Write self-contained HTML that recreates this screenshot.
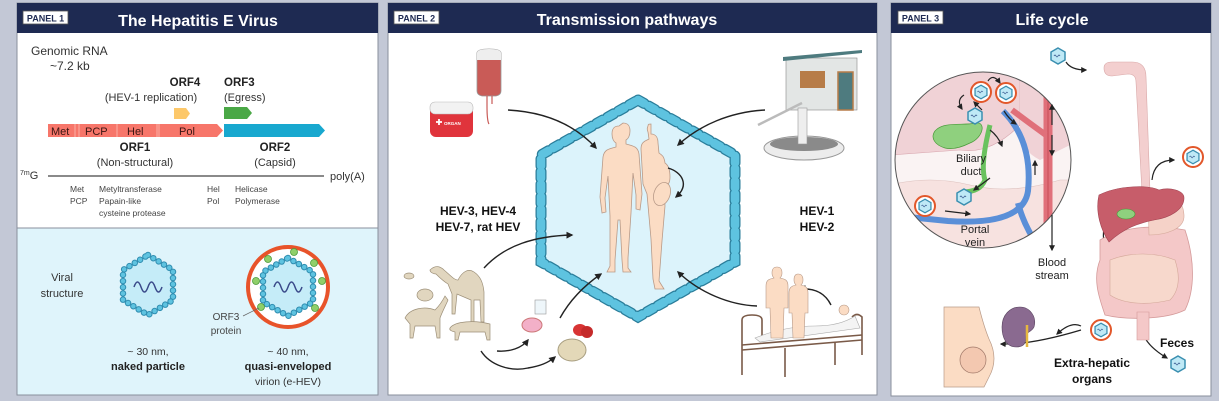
<!DOCTYPE html>
<html><head><meta charset="utf-8"><style>
html,body{margin:0;padding:0;background:#c3c8d6;}
svg{display:block;font-family:"Liberation Sans",Arial,sans-serif;}
</style></head><body>
<svg width="1219" height="401" viewBox="0 0 1219 401" xmlns="http://www.w3.org/2000/svg">
<defs>
<marker id="ah" viewBox="0 0 10 10" refX="8" refY="5" markerWidth="5" markerHeight="5" orient="auto"><path d="M0,0 L10,5 L0,10 z" fill="#222"/></marker>
<g id="vir">
 <polygon points="0,-8 7,-4 7,4 0,8 -7,4 -7,-4" fill="#bfe9f6" stroke="#3a8fb0" stroke-width="1.5"/>
 <path d="M-4,0 q1,-2 2,0 t2,0 t2,0" fill="none" stroke="#3a5a90" stroke-width="0.8"/>
</g>
<g id="evir">
 <circle r="10" fill="#fff" stroke="#e2572a" stroke-width="2"/>
 <use href="#vir" transform="scale(0.85)"/>
</g>
</defs>
<rect width="1219" height="401" fill="#c3c8d6"/>

<!-- PANEL 1 -->
<rect x="17" y="3" width="361" height="392" fill="#fff" stroke="#8a8f9c"/>
<rect x="17" y="3" width="361" height="30" fill="#1e2a52"/>
<rect x="23" y="11" width="45" height="13" fill="#fff" stroke="#555" stroke-width="0.8"/>
<text x="45.5" y="21.5" font-size="9" font-weight="bold" text-anchor="middle" fill="#1e2a52">PANEL 1</text>
<text x="198" y="26" font-size="16" font-weight="bold" text-anchor="middle" fill="#fff">The Hepatitis E Virus</text>
<text x="31" y="55" font-size="12" fill="#333">Genomic RNA</text>
<text x="50" y="70" font-size="12" fill="#333">~7.2 kb</text>
<text x="185" y="86" font-size="11.5" font-weight="bold" text-anchor="middle" fill="#222">ORF4</text>
<text x="151" y="101" font-size="11" text-anchor="middle" fill="#333">(HEV-1 replication)</text>
<text x="224" y="86" font-size="11.5" font-weight="bold" fill="#222">ORF3</text>
<text x="224" y="101" font-size="11" fill="#333">(Egress)</text>
<polygon points="174,108 186,108 190,113.5 186,119 174,119" fill="#fdc86a"/>
<polygon points="224,107 247,107 252,113 247,119 224,119" fill="#4aa846"/>
<polygon points="48,124 217,124 223,130.5 217,137 48,137" fill="#f7766a"/>
<g stroke="#fbb0a6" stroke-width="1"><line x1="75" y1="124" x2="75" y2="137"/><line x1="79" y1="124" x2="79" y2="137"/><line x1="117" y1="124" x2="117" y2="137"/><line x1="157" y1="124" x2="157" y2="137"/><line x1="159" y1="124" x2="159" y2="137"/></g>
<polygon points="224,124 319,124 325,130.5 319,137 224,137" fill="#18a8cf"/>
<g font-size="11" fill="#3a1512"><text x="51" y="135">Met</text><text x="85" y="135">PCP</text><text x="127" y="135">Hel</text><text x="179" y="135">Pol</text></g>
<text x="135" y="151" font-size="11.5" font-weight="bold" text-anchor="middle" fill="#222">ORF1</text>
<text x="135" y="166" font-size="11" text-anchor="middle" fill="#333">(Non-structural)</text>
<text x="275" y="151" font-size="11.5" font-weight="bold" text-anchor="middle" fill="#222">ORF2</text>
<text x="275" y="166" font-size="11" text-anchor="middle" fill="#333">(Capsid)</text>
<line x1="48" y1="176" x2="324" y2="176" stroke="#444" stroke-width="1.3"/>
<text x="20" y="179" font-size="11" fill="#333"><tspan font-size="7" dy="-4">7m</tspan><tspan dy="4">G</tspan></text>
<text x="330" y="180" font-size="11" fill="#333">poly(A)</text>
<g font-size="8.5" fill="#444">
<text x="70" y="192">Met</text><text x="99" y="192">Metyltransferase</text>
<text x="70" y="204">PCP</text><text x="99" y="204">Papain-like</text>
<text x="99" y="216">cysteine protease</text>
<text x="207" y="192">Hel</text><text x="235" y="192">Helicase</text>
<text x="207" y="204">Pol</text><text x="235" y="204">Polymerase</text>
</g>
<rect x="17" y="228" width="361" height="167" fill="#dff4fb" stroke="#8a8f9c"/>
<text x="62" y="281" font-size="11" text-anchor="middle" fill="#333">Viral</text>
<text x="62" y="297" font-size="11" text-anchor="middle" fill="#333">structure</text>
<!-- naked -->
<polygon points="148,255 173,270 173,300 148,315 123,300 123,270" fill="#c5ecf8"/>
<polygon points="148,255 173,270 173,300 148,315 123,300 123,270" fill="none" stroke="#2f8db0" stroke-width="6.5" stroke-dasharray="0 6.2" stroke-linecap="round"/>
<polygon points="148,255 173,270 173,300 148,315 123,300 123,270" fill="none" stroke="#5ec3e0" stroke-width="4.5" stroke-dasharray="0 6.2" stroke-linecap="round"/>
<path d="M134,287 q3.5,-10 7,0 t7,0 t7,0 t7,0" fill="none" stroke="#3a4a8a" stroke-width="1.5"/>
<!-- enveloped -->
<circle cx="288" cy="287" r="40" fill="#fff" stroke="#e8532a" stroke-width="4"/>
<polygon points="288,258 313,272 313,302 288,316 263,302 263,272" fill="#c5ecf8"/>
<polygon points="288,258 313,272 313,302 288,316 263,302 263,272" fill="none" stroke="#2f8db0" stroke-width="6.5" stroke-dasharray="0 6.2" stroke-linecap="round"/>
<polygon points="288,258 313,272 313,302 288,316 263,302 263,272" fill="none" stroke="#5ec3e0" stroke-width="4.5" stroke-dasharray="0 6.2" stroke-linecap="round"/>
<g fill="#8fcf6a" stroke="#4a9a3a" stroke-width="0.8"><circle cx="294" cy="252" r="3.5"/><circle cx="268" cy="259" r="3.5"/><circle cx="314" cy="263" r="3.5"/><circle cx="322" cy="281" r="3.5"/><circle cx="256" cy="281" r="3.5"/><circle cx="261" cy="307" r="3.5"/><circle cx="315" cy="308" r="3.5"/></g>
<path d="M274,287 q3.5,-10 7,0 t7,0 t7,0 t7,0" fill="none" stroke="#3a4a8a" stroke-width="1.5"/>
<line x1="243" y1="316" x2="259" y2="308" stroke="#666" stroke-width="0.7"/>
<text x="226" y="320" font-size="10" text-anchor="middle" fill="#444">ORF3</text>
<text x="226" y="334" font-size="10" text-anchor="middle" fill="#444">protein</text>
<text x="148" y="355" font-size="10.5" text-anchor="middle" fill="#333">~ 30 nm,</text>
<text x="148" y="370" font-size="11" font-weight="bold" text-anchor="middle" fill="#222">naked particle</text>
<text x="288" y="355" font-size="10.5" text-anchor="middle" fill="#333">~ 40 nm,</text>
<text x="288" y="370" font-size="11" font-weight="bold" text-anchor="middle" fill="#222">quasi-enveloped</text>
<text x="288" y="385" font-size="10.5" text-anchor="middle" fill="#333">virion (e-HEV)</text>

<!-- PANEL 2 -->
<rect x="388" y="3" width="489" height="392" fill="#fff" stroke="#8a8f9c"/>
<rect x="388" y="3" width="489" height="30" fill="#1e2a52"/>
<rect x="394" y="11" width="45" height="13" fill="#fff" stroke="#555" stroke-width="0.8"/>
<text x="416.5" y="21.5" font-size="9" font-weight="bold" text-anchor="middle" fill="#1e2a52">PANEL 2</text>
<text x="627" y="25" font-size="16" font-weight="bold" text-anchor="middle" fill="#fff">Transmission pathways</text>
<polygon points="638,100 735,155 735,262 638,317 541,262 541,155" fill="#dcf3fb"/>
<polygon points="638,100 735,155 735,262 638,317 541,262 541,155" fill="none" stroke="#2a7d9a" stroke-width="11" stroke-dasharray="7 5.5" stroke-linecap="round"/>
<polygon points="638,100 735,155 735,262 638,317 541,262 541,155" fill="none" stroke="#5ec3e0" stroke-width="8.5" stroke-dasharray="7 5.5" stroke-linecap="round"/>
<!-- humans -->
<g fill="#fbdcc4" stroke="#b89a88" stroke-width="0.8">
<path d="M623,123 c6,0 7,4 7,8 c0,5 -2,8 -4,9 l0,4 c8,2 12,3 13,10 l3,40 l-2,16 l-4,-1 l0,-14 l-3,-22 l-2,40 l-3,45 l0,10 l3,4 l-8,0 l-1,-12 l-2,-40 l-2,0 l-3,40 l0,12 l-8,0 l3,-6 l0,-50 l-2,-40 l-3,22 l1,14 l-4,1 l-2,-16 l3,-40 c1,-7 5,-8 13,-10 l0,-4 c-2,-1 -4,-4 -4,-9 c0,-4 1,-8 7,-8z"/>
<path d="M651,134 c5,0 7,4 7,9 l1,10 c3,2 5,3 6,10 c3,2 5,7 5,14 c0,7 -3,9 -6,9 l1,20 l-3,35 l-3,40 l5,8 l-9,0 l-2,-10 l-2,-40 l-4,-45 l-4,-10 l-2,-35 c0,-8 5,-8 8,-10 l-1,-7 c-1,-2 -1,-4 0,-6 c0,-2 1,-2 3,-2z"/>
<ellipse cx="662" cy="194" rx="8" ry="12" transform="rotate(20 662 194)"/>
</g>
<g fill="none" stroke="#222" stroke-width="1.4">
<path d="M508,110 C545,112 575,125 596,148" marker-end="url(#ah)"/>
<path d="M765,110 C730,112 700,125 678,145" marker-end="url(#ah)"/>
<path d="M484,268 C505,245 535,236 572,235" marker-end="url(#ah)"/>
<path d="M560,318 C570,300 585,285 601,274" marker-end="url(#ah)"/>
<path d="M757,306 C730,305 700,293 678,272" marker-end="url(#ah)"/>
<path d="M668,168 C682,172 690,185 676,197" marker-end="url(#ah)"/>
<path d="M497,351 C510,352 522,348 528,340" marker-end="url(#ah)"/>
<path d="M481,351 C490,365 510,372 528,368 C540,366 548,363 555,357" marker-end="url(#ah)"/>
<path d="M831,305 C825,293 815,288 800,289" marker-end="url(#ah)"/>
</g>
<text x="478" y="215" font-size="12" font-weight="bold" text-anchor="middle" fill="#111">HEV-3, HEV-4</text>
<text x="478" y="231" font-size="12" font-weight="bold" text-anchor="middle" fill="#111">HEV-7, rat HEV</text>
<text x="817" y="215" font-size="12" font-weight="bold" text-anchor="middle" fill="#111">HEV-1</text>
<text x="817" y="231" font-size="12" font-weight="bold" text-anchor="middle" fill="#111">HEV-2</text>
<!-- blood bag -->
<path d="M477,53 q0,-4 12,-4 q12,0 12,4 l0,38 q0,4 -5,5 l-14,0 q-5,-1 -5,-5z" fill="#c95b57" stroke="#999" stroke-width="0.8"/>
<path d="M477,53 q0,-4 12,-4 q12,0 12,4 l0,7 l-24,0z" fill="#eee"/>
<path d="M487,96 l0,10 q0,15 2,18" stroke="#c95b57" fill="none" stroke-width="1.2"/>
<path d="M492,96 l0,8" stroke="#c95b57" stroke-width="1.2"/>
<!-- organ box -->
<rect x="430" y="102" width="43" height="35" rx="6" fill="#e0343c"/>
<rect x="430" y="102" width="43" height="12" rx="5" fill="#f2f2f2" stroke="#bbb" stroke-width="0.6"/>
<text x="444" y="125" font-size="4.5" font-weight="bold" fill="#fff">ORGAN</text>
<path d="M436,122 h6 M439,119 v6" stroke="#fff" stroke-width="1.8"/>
<!-- house & well -->
<rect x="786" y="58" width="71" height="52" fill="#e3e6e5" stroke="#888" stroke-width="0.6"/>
<polygon points="783,57 862,50 862,53 783,61" fill="#4e7b7f"/>
<rect x="800" y="71" width="25" height="17" fill="#b77c48"/>
<rect x="838" y="72" width="15" height="38" fill="#4e7b7f" stroke="#b77c48" stroke-width="1.5"/>
<ellipse cx="804" cy="148" rx="40" ry="12" fill="#ececec" stroke="#999"/>
<ellipse cx="804" cy="144" rx="34" ry="7" fill="#8a8a8a"/>
<rect x="798" y="108" width="9" height="36" fill="#eee" stroke="#999" stroke-width="0.6"/>
<line x1="758" y1="125" x2="802" y2="103" stroke="#bbb" stroke-width="2.5"/>
<!-- animals -->
<g fill="#e1d6bf" stroke="#9c8f78" stroke-width="0.7">
<path d="M430,270 c5,-5 10,-4 14,0 c6,5 10,10 14,10 c4,-8 10,-12 16,-8 c6,4 9,10 10,20 l0,30 l-3,0 l-1,-22 l-6,0 l0,22 l-3,0 l0,-22 l-14,-6 l-2,20 l-3,0 l0,-20 l-4,-10 c-5,-3 -8,-6 -12,-10 c-3,0 -6,-2 -6,-4z"/>
<ellipse cx="425" cy="295" rx="8" ry="6"/>
<path d="M405,318 c5,-10 20,-12 30,-8 c5,-5 8,-10 10,-14 l3,4 c-2,5 -5,10 -8,18 l0,20 l-3,0 l-2,-12 l-20,0 l-2,12 l-3,0 l0,-14z"/>
<path d="M450,328 c5,-7 25,-8 40,-4 l0,16 l-3,0 l-2,-8 l-25,0 l-2,8 l-3,0 l0,-8 c-4,-1 -6,-2 -5,-4z"/>
<ellipse cx="409" cy="276" rx="5" ry="3"/>
</g>
<!-- food -->
<ellipse cx="532" cy="325" rx="10" ry="7" fill="#f3b0c8" stroke="#c77"/>
<rect x="535" y="300" width="11" height="14" fill="#eef6fa" stroke="#999" stroke-width="0.6"/>
<ellipse cx="580" cy="330" rx="7" ry="6" fill="#d83434"/>
<ellipse cx="587" cy="332" rx="6" ry="6" fill="#c52a2a"/>
<ellipse cx="572" cy="350" rx="14" ry="11" fill="#e3d8b8" stroke="#a89e80"/>
<!-- bed -->
<g stroke="#7a5a48" stroke-width="1.6" fill="none">
<path d="M742,375 l0,-55 q0,-5 10,-5 q10,0 10,5 l0,20"/>
<path d="M862,355 l0,-38 q-5,-5 -10,0"/>
<line x1="742" y1="345" x2="862" y2="335"/>
<line x1="742" y1="350" x2="862" y2="340"/>
<line x1="785" y1="348" x2="785" y2="377"/>
<line x1="835" y1="342" x2="835" y2="365"/>
</g>
<path d="M755,338 q30,-12 60,-12 q25,0 40,-10 l5,12 l-100,14z" fill="#f4f4f4" stroke="#aaa" stroke-width="0.6"/>
<circle cx="844" cy="310" r="5" fill="#fbdcc4" stroke="#b89a88" stroke-width="0.6"/>
<g fill="#fbdcc4" stroke="#b89a88" stroke-width="0.6">
<path d="M777,267 c4,0 5,3 5,6 c0,3 -1,4 -2,5 c5,1 8,2 8,8 l0,22 l-4,0 l-1,30 l-12,0 l-1,-30 l-4,0 l0,-22 c0,-6 3,-7 8,-8 c-1,-1 -2,-2 -2,-5 c0,-3 1,-6 5,-6z"/>
<path d="M798,274 c4,0 5,3 5,6 c0,3 -1,4 -2,5 c5,1 7,3 7,8 l0,20 l-3,0 l-1,25 l-11,0 l-1,-25 l-3,0 l0,-20 c0,-5 2,-7 7,-8 c-1,-1 -2,-2 -2,-5 c0,-3 1,-6 4,-6z"/>
</g>

<!-- PANEL 3 -->
<rect x="891" y="3" width="320" height="393" fill="#fff" stroke="#8a8f9c"/>
<rect x="891" y="3" width="320" height="30" fill="#1e2a52"/>
<rect x="898" y="11" width="45" height="13" fill="#fff" stroke="#555" stroke-width="0.8"/>
<text x="920.5" y="21.5" font-size="9" font-weight="bold" text-anchor="middle" fill="#1e2a52">PANEL 3</text>
<text x="1052" y="25" font-size="16" font-weight="bold" text-anchor="middle" fill="#fff">Life cycle</text>
<!-- magnified circle -->
<clipPath id="cc"><circle cx="983" cy="160" r="88"/></clipPath>
<circle cx="983" cy="160" r="88" fill="#faf3f3"/>
<g clip-path="url(#cc)">
<path d="M890,70 l130,0 l0,55 q-30,30 -60,25 l-70,5z" fill="#f0d2d6" stroke="#d9a8b0" stroke-width="0.6"/>
<path d="M1020,70 l60,0 l0,70 l-40,20 q-20,-10 -20,-30z" fill="#f0d2d6"/>
<path d="M890,185 q40,-10 80,0 q40,10 90,-5 l20,0 l0,90 l-190,0z" fill="#f7e2e0" stroke="#dcc0bd" stroke-width="0.6"/>
<path d="M1048,70 l0,190" stroke="#e0707a" stroke-width="9"/>
<path d="M1048,70 l0,190" stroke="#c94b57" stroke-width="1"/>
<path d="M1012,110 q20,15 34,25" stroke="#e0707a" stroke-width="6" fill="none"/>
<path d="M1003,111 q30,30 25,80 q-5,35 -80,30 l-40,-4" stroke="#5a8fd8" stroke-width="6" fill="none"/>
<path d="M1018,203 q5,20 18,40" stroke="#5a8fd8" stroke-width="6" fill="none"/>
<path d="M990,125 q-10,40 -5,55 q-5,12 -22,12" stroke="#6ac25e" stroke-width="5" fill="none"/>
<path d="M945,148 c-10,-3 -15,-10 -10,-17 c8,-10 30,-5 40,-8 c12,-2 8,15 -5,20 c-8,4 -17,7 -25,5z" fill="#8fd07e" stroke="#4a9a3a" stroke-width="0.7"/>
</g>
<circle cx="983" cy="160" r="88" fill="none" stroke="#555" stroke-width="1"/>
<g fill="none" stroke="#222" stroke-width="1.2">
<path d="M988,81 q5,-8 12,2" marker-end="url(#ah)"/>
<path d="M964,95 q-8,5 -2,14" marker-end="url(#ah)"/>
<path d="M1004,111 q5,8 12,13" marker-end="url(#ah)"/>
<path d="M990,130 q8,6 12,16" marker-end="url(#ah)"/>
<path d="M982,110 l-8,-8" marker-end="url(#ah)"/>
<path d="M1052,125 l0,-20" marker-end="url(#ah)"/>
<path d="M1052,135 l0,20" marker-end="url(#ah)"/>
<path d="M1035,175 l0,-14" marker-end="url(#ah)"/>
<path d="M990,178 l-16,12" marker-end="url(#ah)"/>
<path d="M945,211 l25,3" marker-end="url(#ah)"/>
<path d="M1052,215 l0,35" marker-end="url(#ah)"/>
<path d="M1066,62 q5,8 20,8" marker-end="url(#ah)"/>
<path d="M1152,180 q2,-20 22,-20" marker-end="url(#ah)"/>
<path d="M1110,260 q-15,-30 4,-50" marker-end="url(#ah)"/>
<path d="M1150,210 q0,80 -40,105" marker-end="url(#ah)"/>
<path d="M1081,326 q-10,-5 -24,8" marker-end="url(#ah)"/>
<path d="M1081,330 q-50,15 -80,14" marker-end="url(#ah)"/>
<path d="M1142,330 q3,15 25,28" marker-end="url(#ah)"/>
<path d="M1135,230 q-5,10 -15,14" marker-end="url(#ah)"/>
</g>
<use href="#evir" x="981" y="92"/>
<use href="#evir" x="1006" y="93"/>
<use href="#vir" x="975" y="116"/>
<use href="#vir" x="964" y="197"/>
<use href="#evir" x="925" y="206"/>
<use href="#vir" x="1058" y="56"/>
<use href="#evir" x="1193" y="157"/>
<use href="#evir" x="1101" y="330"/>
<use href="#vir" x="1178" y="364"/>
<text x="971" y="162" font-size="11" text-anchor="middle" fill="#222">Biliary</text>
<text x="971" y="175" font-size="11" text-anchor="middle" fill="#222">duct</text>
<text x="975" y="233" font-size="11" text-anchor="middle" fill="#222">Portal</text>
<text x="975" y="246" font-size="11" text-anchor="middle" fill="#222">vein</text>
<text x="1052" y="266" font-size="11" text-anchor="middle" fill="#222">Blood</text>
<text x="1052" y="279" font-size="11" text-anchor="middle" fill="#222">stream</text>
<!-- GI tract -->
<path d="M1104,68 q0,-6 8,-6 l20,0 q14,0 14,15 l4,115 l-8,0 l-6,-110 q0,-8 -8,-8 l-16,2 q-8,0 -8,-8z" fill="#f3cfcf" stroke="#d9a8a8" stroke-width="0.6"/>
<path d="M1100,260 c-8,20 0,40 5,55 c20,5 60,5 80,-5 c10,-20 10,-50 0,-80 c-25,-5 -60,-5 -85,10z" fill="#f4c8c8" stroke="#d49a9a" stroke-width="0.8"/>
<path d="M1110,260 c20,-8 45,-8 65,0 c5,15 5,30 -5,40 c-20,5 -45,5 -60,-5z" fill="#f7d8cc" stroke="#d4a89a" stroke-width="0.6"/>
<path d="M1137,312 l0,28 l12,0 l0,-28z" fill="#f4c8c8" stroke="#d49a9a" stroke-width="0.6"/>
<path d="M1148,195 c15,-5 35,0 36,20 c1,15 -20,20 -35,20z" fill="#f5d2c8" stroke="#d4a89a" stroke-width="0.6"/>
<path d="M1099,195 c20,-10 50,-10 60,-5 c10,-3 25,0 25,8 c0,12 -15,20 -30,22 c-15,3 -30,8 -45,22 c-8,-12 -14,-30 -10,-47z" fill="#c75d6a" stroke="#a04250" stroke-width="0.6"/>
<ellipse cx="1126" cy="214" rx="9" ry="5" fill="#8fd07e" stroke="#4a9a3a" stroke-width="0.6"/>
<text x="1177" y="347" font-size="12" font-weight="bold" text-anchor="middle" fill="#111">Feces</text>
<text x="1092" y="367" font-size="12" font-weight="bold" text-anchor="middle" fill="#111">Extra-hepatic</text>
<text x="1092" y="383" font-size="12" font-weight="bold" text-anchor="middle" fill="#111">organs</text>
<!-- kidney -->
<path d="M1020,307 c10,0 17,10 14,20 c-3,6 -8,4 -8,10 c0,8 -4,10 -10,10 c-10,0 -14,-10 -14,-20 c0,-12 8,-20 18,-20z" fill="#8a6a90" stroke="#5a4560" stroke-width="0.6"/>
<path d="M1027,325 l0,22" stroke="#e6b840" stroke-width="2.5"/>
<!-- pregnant -->
<path d="M944,307 l35,0 q5,20 10,32 q10,20 0,38 l-5,10 l-40,0z" fill="#fbdcc4" stroke="#b89a88" stroke-width="0.7"/>
<circle cx="973" cy="360" r="13" fill="#f3c8b0" stroke="#a07868" stroke-width="0.7"/>
</svg>
</body></html>
